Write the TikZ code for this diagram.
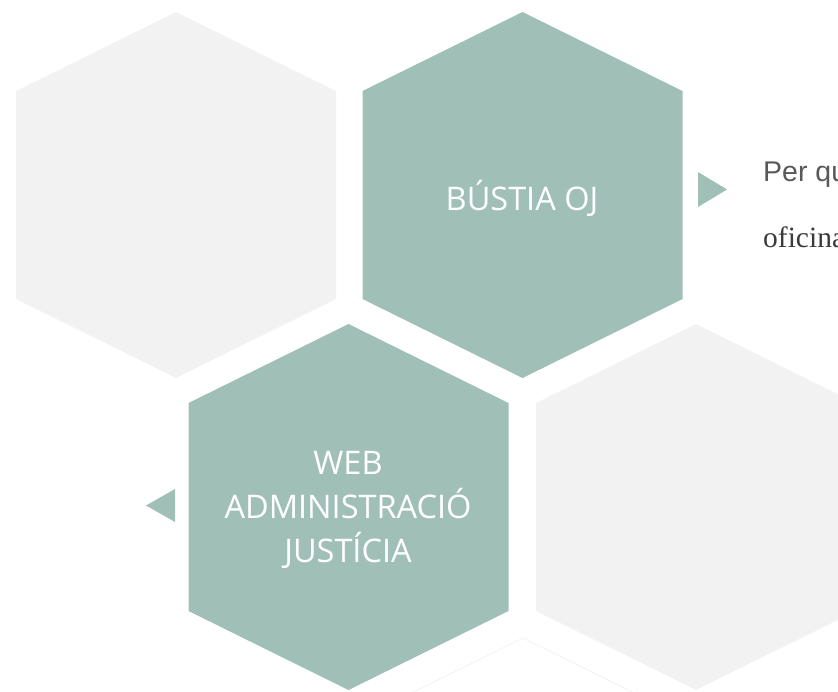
\documentclass[tikz,border=0pt]{standalone}
\usepackage{fontspec}
\newfontfamily\hexfont{Open Sans}
\newfontfamily\sidesans{Liberation Sans}
\newfontfamily\sideserif{Liberation Serif}
\definecolor{teal1}{HTML}{A0C0B7}
\definecolor{gray1}{HTML}{F2F2F2}
\definecolor{txtgray}{HTML}{595959}
\definecolor{txtdark}{HTML}{3A3A3A}
\tikzset{
  hexteal/.style={fill=teal1},
  hexgray/.style={fill=gray1},
  hexline/.style={draw=gray1, line width=0.8pt},
  marker/.style={fill=teal1},
  hextext/.style={text=white, font=\hexfont\fontsize{32.5}{44}\selectfont, align=center, inner sep=0pt},
  sidetext/.style={anchor=base west, inner sep=0pt}
}
\begin{document}
\begin{tikzpicture}[x=1pt,y=-1pt]
\useasboundingbox (0,0) rectangle (838,691);
\clip (0,0) rectangle (838,691);
\foreach \cx/\cy/\st in {176/195/hexgray, 522.5/195/hexteal, 348.5/507/hexteal, 696/507/hexgray}{
  \path[\st] (\cx,\cy-183) -- (\cx+160,\cy-104) -- (\cx+160,\cy+104) -- (\cx,\cy+183)
    -- (\cx-160,\cy+104) -- (\cx-160,\cy-104) -- cycle;
}
\path[hexline] (523,638) -- (683,717) -- (683,925) -- (523,1004) -- (363,925) -- (363,717) -- cycle;
% markers
\path[marker] (698,172) -- (727,189.5) -- (698,207) -- cycle;
\path[marker] (175,489) -- (146,505.5) -- (175,522) -- cycle;
% texts
\node[hextext] (bustia) at (522,198) {BÚSTIA OJ};
\node[hextext] (web) at (348,510) {WEB\\ADMINISTRACIÓ\\JUSTÍCIA};
\node[sidetext, text=txtgray, font=\sidesans\fontsize{28.5}{34}\selectfont] (perqu) at (763,181) {Per qu};
\node[sidetext, text=txtdark, font=\sideserif\fontsize{29.5}{34}\selectfont] (oficina) at (763,247) {oficina};
\end{tikzpicture}
\end{document}
